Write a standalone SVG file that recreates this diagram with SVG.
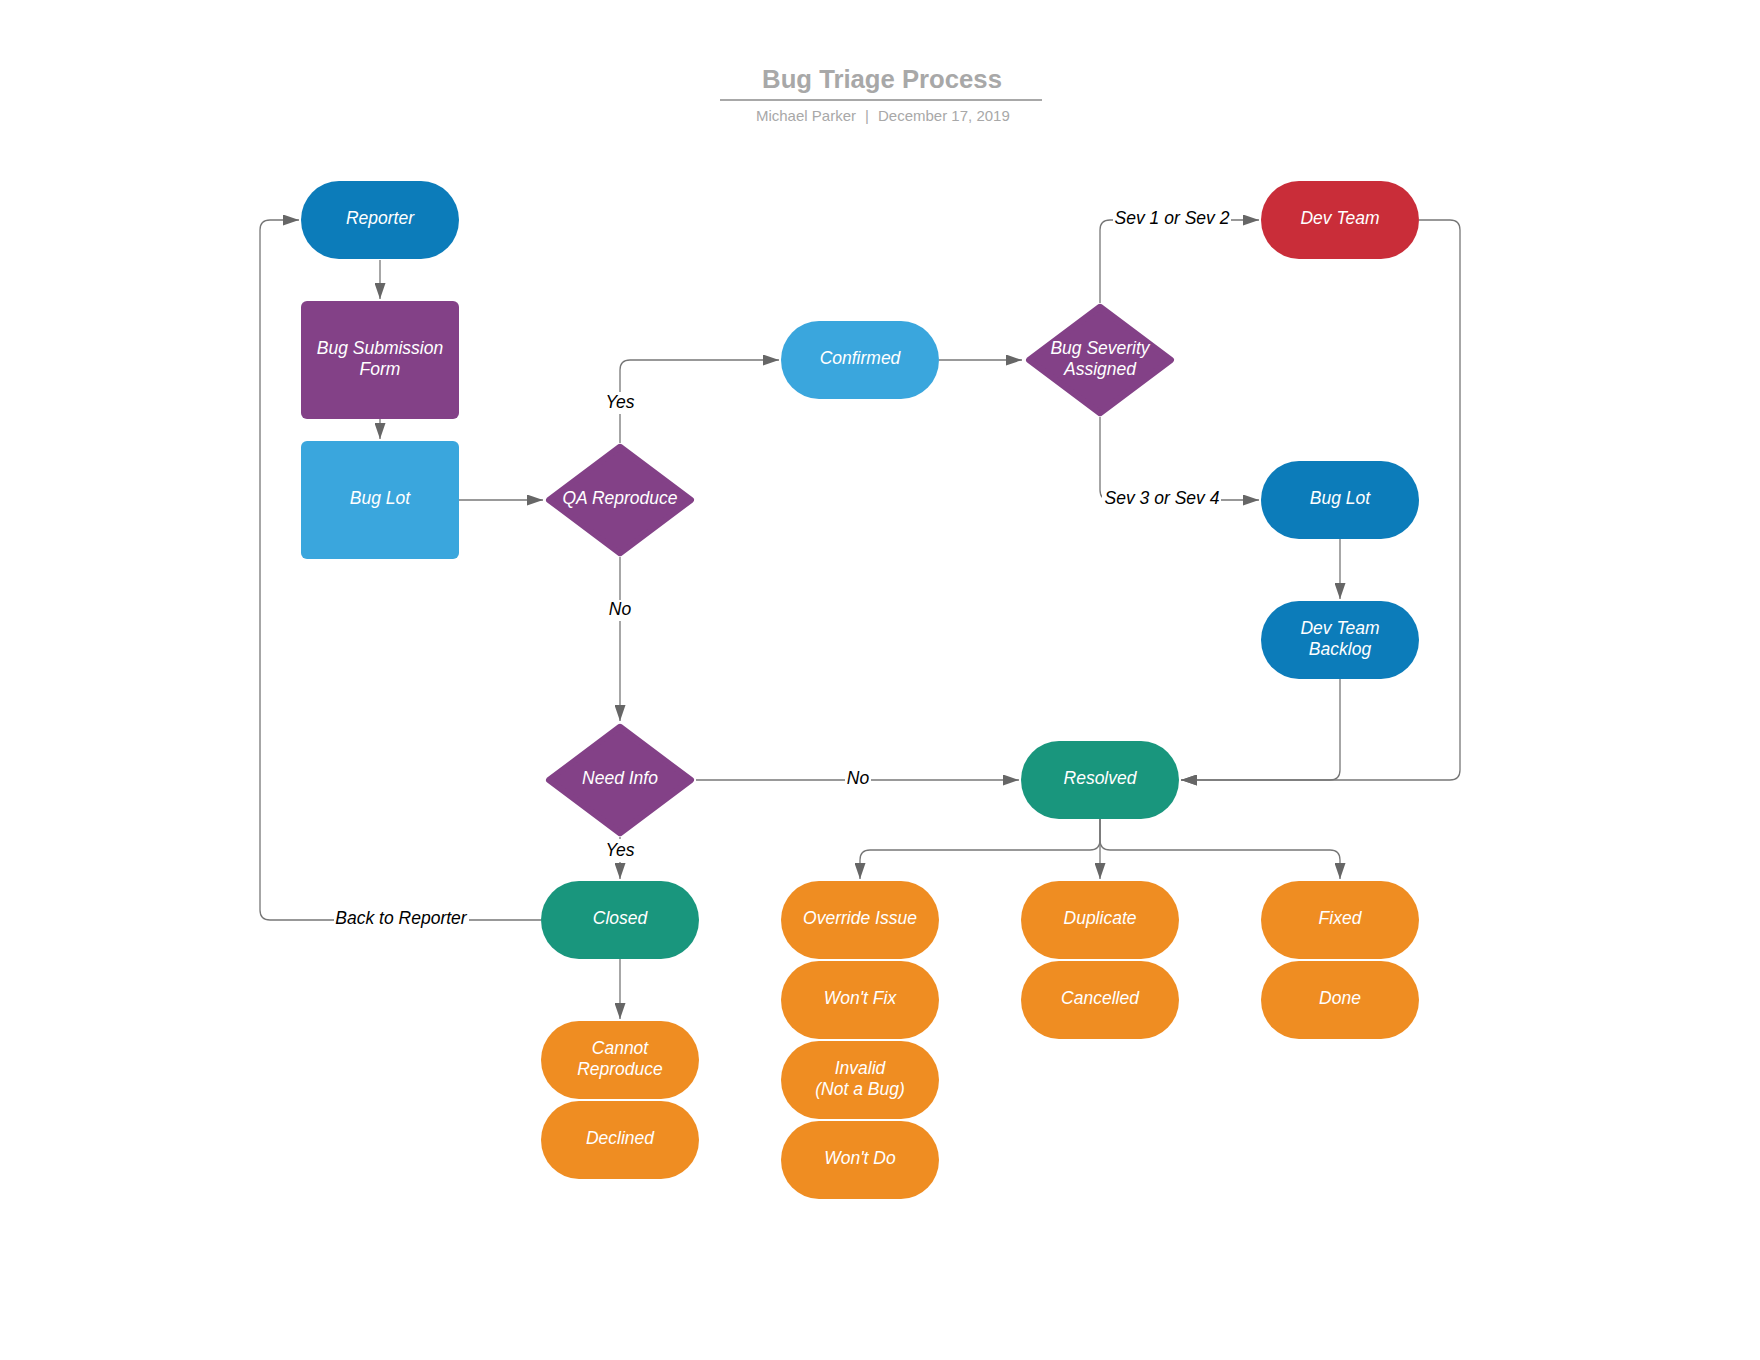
<svg xmlns="http://www.w3.org/2000/svg" width="1760" height="1360" viewBox="0 0 1760 1360">
  <style>
    .bg { fill: #ffffff; }
    .title { font-family: "Liberation Sans", Arial, sans-serif; font-weight: bold; font-size: 25.7px; fill: #a8a8a8; text-anchor: middle; }
    .sub { font-family: "Liberation Sans", Arial, sans-serif; font-size: 15px; fill: #a8a8a8; }
    .t { font-family: "Liberation Sans", Arial, sans-serif; font-style: italic; font-size: 17.5px; fill: #ffffff; text-anchor: middle; }
    .lbl { font-family: "Liberation Sans", Arial, sans-serif; font-style: italic; font-size: 17.5px; fill: #000000; text-anchor: middle; }
    .lbl-bg { fill: #ffffff; }
    .conn { fill: none; stroke: #777777; stroke-width: 1.3; marker-end: url(#arrow); }
    .blue { fill: #0c7cba; }
    .sky { fill: #3aa6dd; }
    .purple { fill: #834187; }
    .red { fill: #c92d39; }
    .teal { fill: #19967d; }
    .orange { fill: #ef8d22; }
    .dia { fill: #834187; stroke: #834187; stroke-width: 6; stroke-linejoin: round; }
  </style>
  <defs>
    <marker id="arrow" markerUnits="userSpaceOnUse" markerWidth="16" markerHeight="11" refX="16" refY="5.5" orient="auto">
      <path d="M0,0 L16,5.5 L0,11 z" fill="#666666"/>
    </marker>
  </defs>

  <rect class="bg" x="0" y="0" width="1760" height="1360"/>

  <!-- title block -->
  <g id="title">
    <text class="title" x="882" y="88">Bug Triage Process</text>
    <line x1="720" y1="100" x2="1042" y2="100" stroke="#a8a8a8" stroke-width="2"/>
    <text class="sub" x="856" y="121" text-anchor="end">Michael Parker</text>
    <text class="sub" x="867" y="121" text-anchor="middle">|</text>
    <text class="sub" x="878" y="121">December 17, 2019</text>
  </g>

  <!-- connectors -->
  <g id="connectors">
    <path class="conn" d="M380,260 L380,299"/>
    <path class="conn" d="M380,419 L380,439"/>
    <path class="conn" d="M459,500 L543,500"/>
    <path class="conn" d="M620,443 L620,370 Q620,360 630,360 L779,360"/>
    <path class="conn" d="M620,557 L620,721"/>
    <path class="conn" d="M939,360 L1022,360"/>
    <path class="conn" d="M1100,303 L1100,230 Q1100,220 1110,220 L1259,220"/>
    <path class="conn" d="M1100,417 L1100,490 Q1100,500 1110,500 L1259,500"/>
    <path class="conn" d="M1340,539 L1340,599"/>
    <path class="conn" d="M1340,679 L1340,770 Q1340,780 1330,780 L1181,780"/>
    <path class="conn" d="M1419,220 L1450,220 Q1460,220 1460,230 L1460,770 Q1460,780 1450,780 L1181,780"/>
    <path class="conn" d="M696,780 L1019,780"/>
    <path class="conn" d="M620,837 L620,879"/>
    <path class="conn" d="M541,920 L270,920 Q260,920 260,910 L260,230 Q260,220 270,220 L299,220"/>
    <path class="conn" d="M620,959 L620,1019"/>
    <path class="conn" d="M1100,819 L1100,840 Q1100,850 1090,850 L870,850 Q860,850 860,860 L860,879"/>
    <path class="conn" d="M1100,819 L1100,879"/>
    <path class="conn" d="M1100,819 L1100,840 Q1100,850 1110,850 L1330,850 Q1340,850 1340,860 L1340,879"/>

    <!-- connector labels -->
    <rect class="lbl-bg" x="603" y="392" width="34" height="22"/>
    <text class="lbl" x="620" y="408">Yes</text>
    <rect class="lbl-bg" x="607" y="600" width="26" height="21"/>
    <text class="lbl" x="620" y="615">No</text>
    <rect class="lbl-bg" x="845" y="769" width="26" height="21"/>
    <text class="lbl" x="858" y="784">No</text>
    <rect class="lbl-bg" x="603" y="839" width="34" height="23"/>
    <text class="lbl" x="620" y="856">Yes</text>
    <rect class="lbl-bg" x="334" y="909" width="135" height="22"/>
    <text class="lbl" x="401" y="924">Back to Reporter</text>
    <rect class="lbl-bg" x="1113" y="209" width="118" height="22"/>
    <text class="lbl" x="1172" y="224">Sev 1 or Sev 2</text>
    <rect class="lbl-bg" x="1102" y="489" width="119" height="22"/>
    <text class="lbl" x="1162" y="504">Sev 3 or Sev 4</text>
  </g>

  <!-- intake column -->
  <g id="reporter">
    <rect class="blue" x="301" y="181" width="158" height="78" rx="38" ry="39"/>
    <text class="t" x="380" y="224">Reporter</text>
  </g>
  <g id="bug-submission-form">
    <rect class="purple" x="301" y="301" width="158" height="118" rx="6"/>
    <text class="t" x="380" y="354">Bug Submission</text>
    <text class="t" x="380" y="375">Form</text>
  </g>
  <g id="bug-lot-intake">
    <rect class="sky" x="301" y="441" width="158" height="118" rx="6"/>
    <text class="t" x="380" y="504">Bug Lot</text>
  </g>

  <!-- decisions -->
  <g id="qa-reproduce">
    <polygon class="dia" points="549,500 620,446.75 691,500 620,553.25"/>
    <text class="t" x="620" y="504">QA Reproduce</text>
  </g>
  <g id="need-info">
    <polygon class="dia" points="549,780 620,726.75 691,780 620,833.25"/>
    <text class="t" x="620" y="784">Need Info</text>
  </g>
  <g id="bug-severity">
    <polygon class="dia" points="1029,360 1100,306.75 1171,360 1100,413.25"/>
    <text class="t" x="1100" y="354">Bug Severity</text>
    <text class="t" x="1100" y="375">Assigned</text>
  </g>

  <g id="confirmed">
    <rect class="sky" x="781" y="321" width="158" height="78" rx="38" ry="39"/>
    <text class="t" x="860" y="364">Confirmed</text>
  </g>

  <!-- development -->
  <g id="dev-team">
    <rect class="red" x="1261" y="181" width="158" height="78" rx="38" ry="39"/>
    <text class="t" x="1340" y="224">Dev Team</text>
  </g>
  <g id="bug-lot-dev">
    <rect class="blue" x="1261" y="461" width="158" height="78" rx="38" ry="39"/>
    <text class="t" x="1340" y="504">Bug Lot</text>
  </g>
  <g id="dev-team-backlog">
    <rect class="blue" x="1261" y="601" width="158" height="78" rx="38" ry="39"/>
    <text class="t" x="1340" y="634">Dev Team</text>
    <text class="t" x="1340" y="655">Backlog</text>
  </g>

  <!-- end states -->
  <g id="resolved">
    <rect class="teal" x="1021" y="741" width="158" height="78" rx="38" ry="39"/>
    <text class="t" x="1100" y="784">Resolved</text>
  </g>
  <g id="closed">
    <rect class="teal" x="541" y="881" width="158" height="78" rx="38" ry="39"/>
    <text class="t" x="620" y="924">Closed</text>
  </g>

  <g id="cannot-reproduce">
    <rect class="orange" x="541" y="1021" width="158" height="78" rx="38" ry="39"/>
    <text class="t" x="620" y="1054">Cannot</text>
    <text class="t" x="620" y="1075">Reproduce</text>
  </g>
  <g id="declined">
    <rect class="orange" x="541" y="1101" width="158" height="78" rx="38" ry="39"/>
    <text class="t" x="620" y="1144">Declined</text>
  </g>

  <g id="override-issue">
    <rect class="orange" x="781" y="881" width="158" height="78" rx="38" ry="39"/>
    <text class="t" x="860" y="924">Override Issue</text>
  </g>
  <g id="wont-fix">
    <rect class="orange" x="781" y="961" width="158" height="78" rx="38" ry="39"/>
    <text class="t" x="860" y="1004">Won't Fix</text>
  </g>
  <g id="invalid">
    <rect class="orange" x="781" y="1041" width="158" height="78" rx="38" ry="39"/>
    <text class="t" x="860" y="1074">Invalid</text>
    <text class="t" x="860" y="1095">(Not a Bug)</text>
  </g>
  <g id="wont-do">
    <rect class="orange" x="781" y="1121" width="158" height="78" rx="38" ry="39"/>
    <text class="t" x="860" y="1164">Won't Do</text>
  </g>

  <g id="duplicate">
    <rect class="orange" x="1021" y="881" width="158" height="78" rx="38" ry="39"/>
    <text class="t" x="1100" y="924">Duplicate</text>
  </g>
  <g id="cancelled">
    <rect class="orange" x="1021" y="961" width="158" height="78" rx="38" ry="39"/>
    <text class="t" x="1100" y="1004">Cancelled</text>
  </g>

  <g id="fixed">
    <rect class="orange" x="1261" y="881" width="158" height="78" rx="38" ry="39"/>
    <text class="t" x="1340" y="924">Fixed</text>
  </g>
  <g id="done">
    <rect class="orange" x="1261" y="961" width="158" height="78" rx="38" ry="39"/>
    <text class="t" x="1340" y="1004">Done</text>
  </g>
</svg>
